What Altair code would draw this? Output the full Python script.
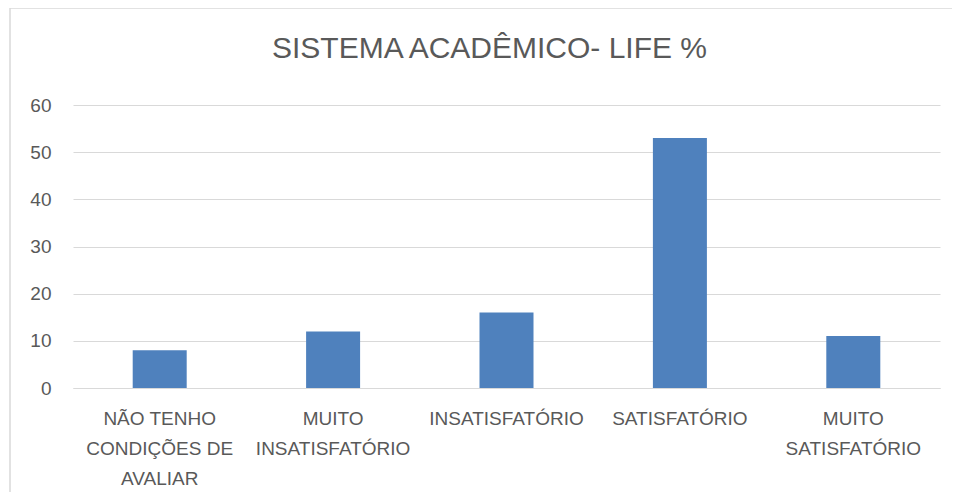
import altair as alt
import pandas as pd

categories = ["NÃO TENHO|CONDIÇÕES DE|AVALIAR", "MUITO|INSATISFATÓRIO", "INSATISFATÓRIO",
              "SATISFATÓRIO", "MUITO|SATISFATÓRIO"]
values = [8, 12, 16, 53, 11]
y_ticks = [0, 10, 20, 30, 40, 50, 60]
title_text = "SISTEMA ACADÊMICO- LIFE %"

df = pd.DataFrame({"cat": categories, "val": values})

W, H = 867, 283
FONT = "Liberation Sans"
TXT = "#595959"

bars = alt.Chart(df).mark_bar(size=54, color="#4F81BD").encode(
    x=alt.X("cat:N", sort=categories, title=None,
            axis=alt.Axis(labelExpr="split(datum.value, '|')", labelAngle=0,
                          labelFontSize=19, labelColor=TXT, labelFont=FONT,
                          labelLineHeight=30, labelPadding=21, labelBaseline="top",
                          ticks=False, domainColor="#d9d9d9", labelLimit=300)),
    y=alt.Y("val:Q", title=None, scale=alt.Scale(domain=[0, 60], nice=False),
            axis=alt.Axis(values=y_ticks, labelFontSize=19, labelColor=TXT, labelFont=FONT,
                          ticks=False, domain=False, gridColor="#d9d9d9", labelPadding=22)),
)

border = alt.Chart(alt.Data(values=[{}])).mark_rect(
    fill=None, stroke="#d9d9d9", strokeWidth=1.5
).encode(
    x=alt.value(-63), x2=alt.value(W + 40),
    y=alt.value(-97), y2=alt.value(H + 140),
)

title = alt.Chart(alt.Data(values=[{"t": title_text}])).mark_text(
    font=FONT, fontSize=30, color=TXT, align="center", baseline="middle"
).encode(
    text="t:N", x=alt.value(W / 2 - 17), y=alt.value(-56),
)

chart = alt.layer(border, title, bars).properties(
    width=W, height=H,
    autosize=alt.AutoSizeParams(type="none"),
    padding={"left": 65, "top": 97, "right": 12, "bottom": 104},
).configure_view(stroke=None).configure_axisX(grid=False)

chart.save("out.html", embed_options={"renderer": "svg", "actions": False})
